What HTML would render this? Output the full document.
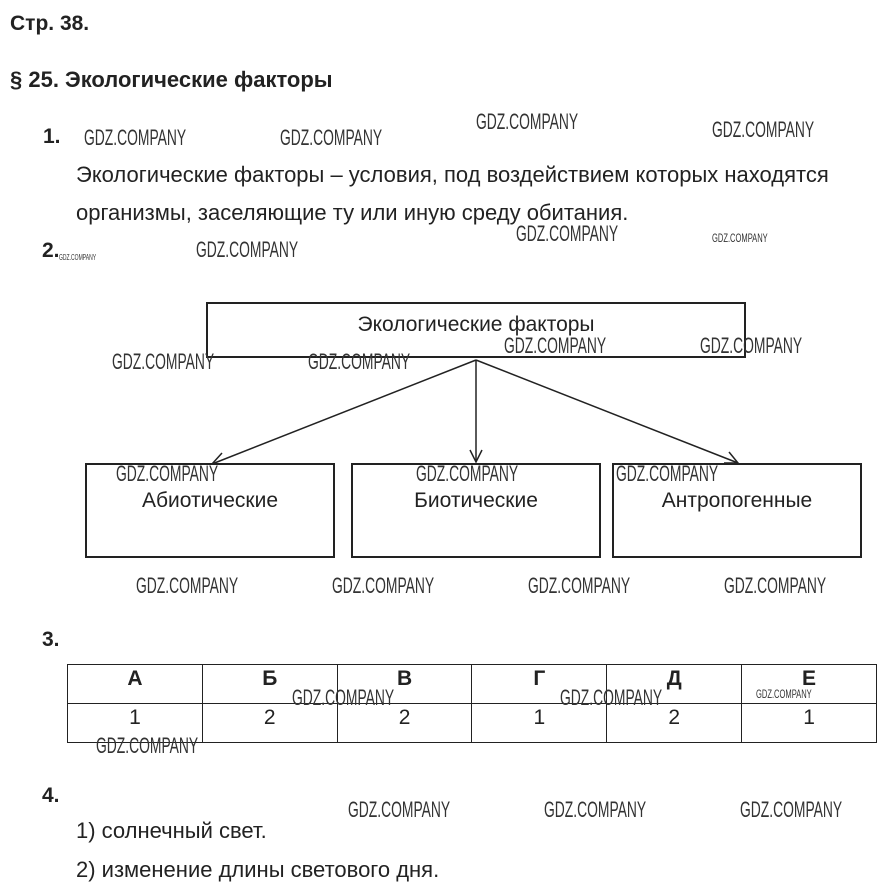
<!DOCTYPE html>
<html><head><meta charset="utf-8"><style>
body{margin:0;width:889px;height:896px;background:#fff;position:relative;overflow:hidden;font-family:"Liberation Sans",sans-serif;color:#222}
.a{position:absolute;white-space:nowrap}
.b{font-weight:bold}
.t{font-size:22px}
.w{position:absolute;white-space:nowrap;font-size:22px;line-height:22px;color:#333;transform:scaleX(0.63);transform-origin:0 0;font-family:"Liberation Sans Narrow","Liberation Sans",sans-serif}
.s{font-size:12px;line-height:12px}
.box{position:absolute;border:2px solid #222;box-sizing:border-box;text-align:center;font-size:21px}
table{position:absolute;left:67px;top:664px;width:810px;border-collapse:collapse}
td{border:1px solid #222;width:135px;text-align:center;font-size:21px;height:38px;padding:0;vertical-align:top;line-height:28px}
</style></head><body>
<div class="a b" style="left:10px;top:12px;font-size:21px">Стр. 38.</div>
<div class="a b" style="left:10px;top:67px;font-size:22px">§ 25. Экологические факторы</div>
<div class="a b" style="left:43px;top:125px;font-size:21px">1.</div>
<div class="a t" style="left:76px;top:162px">Экологические факторы – условия, под воздействием которых находятся</div>
<div class="a t" style="left:76px;top:200px">организмы, заселяющие ту или иную среду обитания.</div>
<div class="a b" style="left:42px;top:239px;font-size:21px">2.</div>

<div class="box" style="left:206px;top:302px;width:540px;height:56px;padding-top:9px">Экологические факторы</div>
<svg style="position:absolute;left:0;top:0" width="889" height="896">
<g stroke="#222" stroke-width="1.5" fill="none">
<line x1="476" y1="360" x2="212" y2="464"/>
<line x1="476" y1="360" x2="476" y2="462"/>
<line x1="476" y1="360" x2="738" y2="463"/>
<polyline points="222,453 212,464 226,464"/>
<polyline points="470,450 476,462 482,450"/>
<polyline points="724,463 738,463 729,452"/>
</g></svg>
<div class="box" style="left:85px;top:463px;width:250px;height:95px;padding-top:24px">Абиотические</div>
<div class="box" style="left:351px;top:463px;width:250px;height:95px;padding-top:24px">Биотические</div>
<div class="box" style="left:612px;top:463px;width:250px;height:95px;padding-top:24px">Антропогенные</div>

<div class="a b" style="left:42px;top:628px;font-size:21px">3.</div>
<table><tr><td class="b">А</td><td class="b">Б</td><td class="b">В</td><td class="b">Г</td><td class="b">Д</td><td class="b">Е</td></tr>
<tr><td>1</td><td>2</td><td>2</td><td>1</td><td>2</td><td>1</td></tr></table>

<div class="a b" style="left:42px;top:784px;font-size:21px">4.</div>
<div class="a t" style="left:76px;top:818px">1) солнечный свет.</div>
<div class="a t" style="left:76px;top:857px">2) изменение длины светового дня.</div>

<div class="w" style="left:84px;top:127px">GDZ.COMPANY</div>
<div class="w" style="left:280px;top:127px">GDZ.COMPANY</div>
<div class="w" style="left:476px;top:111px">GDZ.COMPANY</div>
<div class="w" style="left:712px;top:119px">GDZ.COMPANY</div>
<div class="w" style="left:516px;top:223px">GDZ.COMPANY</div>
<div class="w s" style="left:712px;top:232px">GDZ.COMPANY</div>
<div class="w s" style="left:59px;top:252px;font-size:8px">GDZ.COMPANY</div>
<div class="w" style="left:196px;top:239px">GDZ.COMPANY</div>
<div class="w" style="left:112px;top:351px">GDZ.COMPANY</div>
<div class="w" style="left:308px;top:351px">GDZ.COMPANY</div>
<div class="w" style="left:504px;top:335px">GDZ.COMPANY</div>
<div class="w" style="left:700px;top:335px">GDZ.COMPANY</div>
<div class="w" style="left:116px;top:463px">GDZ.COMPANY</div>
<div class="w" style="left:416px;top:463px">GDZ.COMPANY</div>
<div class="w" style="left:616px;top:463px">GDZ.COMPANY</div>
<div class="w" style="left:136px;top:575px">GDZ.COMPANY</div>
<div class="w" style="left:332px;top:575px">GDZ.COMPANY</div>
<div class="w" style="left:528px;top:575px">GDZ.COMPANY</div>
<div class="w" style="left:724px;top:575px">GDZ.COMPANY</div>
<div class="w" style="left:292px;top:687px">GDZ.COMPANY</div>
<div class="w" style="left:560px;top:687px">GDZ.COMPANY</div>
<div class="w s" style="left:756px;top:688px">GDZ.COMPANY</div>
<div class="w" style="left:96px;top:735px">GDZ.COMPANY</div>
<div class="w" style="left:348px;top:799px">GDZ.COMPANY</div>
<div class="w" style="left:544px;top:799px">GDZ.COMPANY</div>
<div class="w" style="left:740px;top:799px">GDZ.COMPANY</div>
</body></html>
